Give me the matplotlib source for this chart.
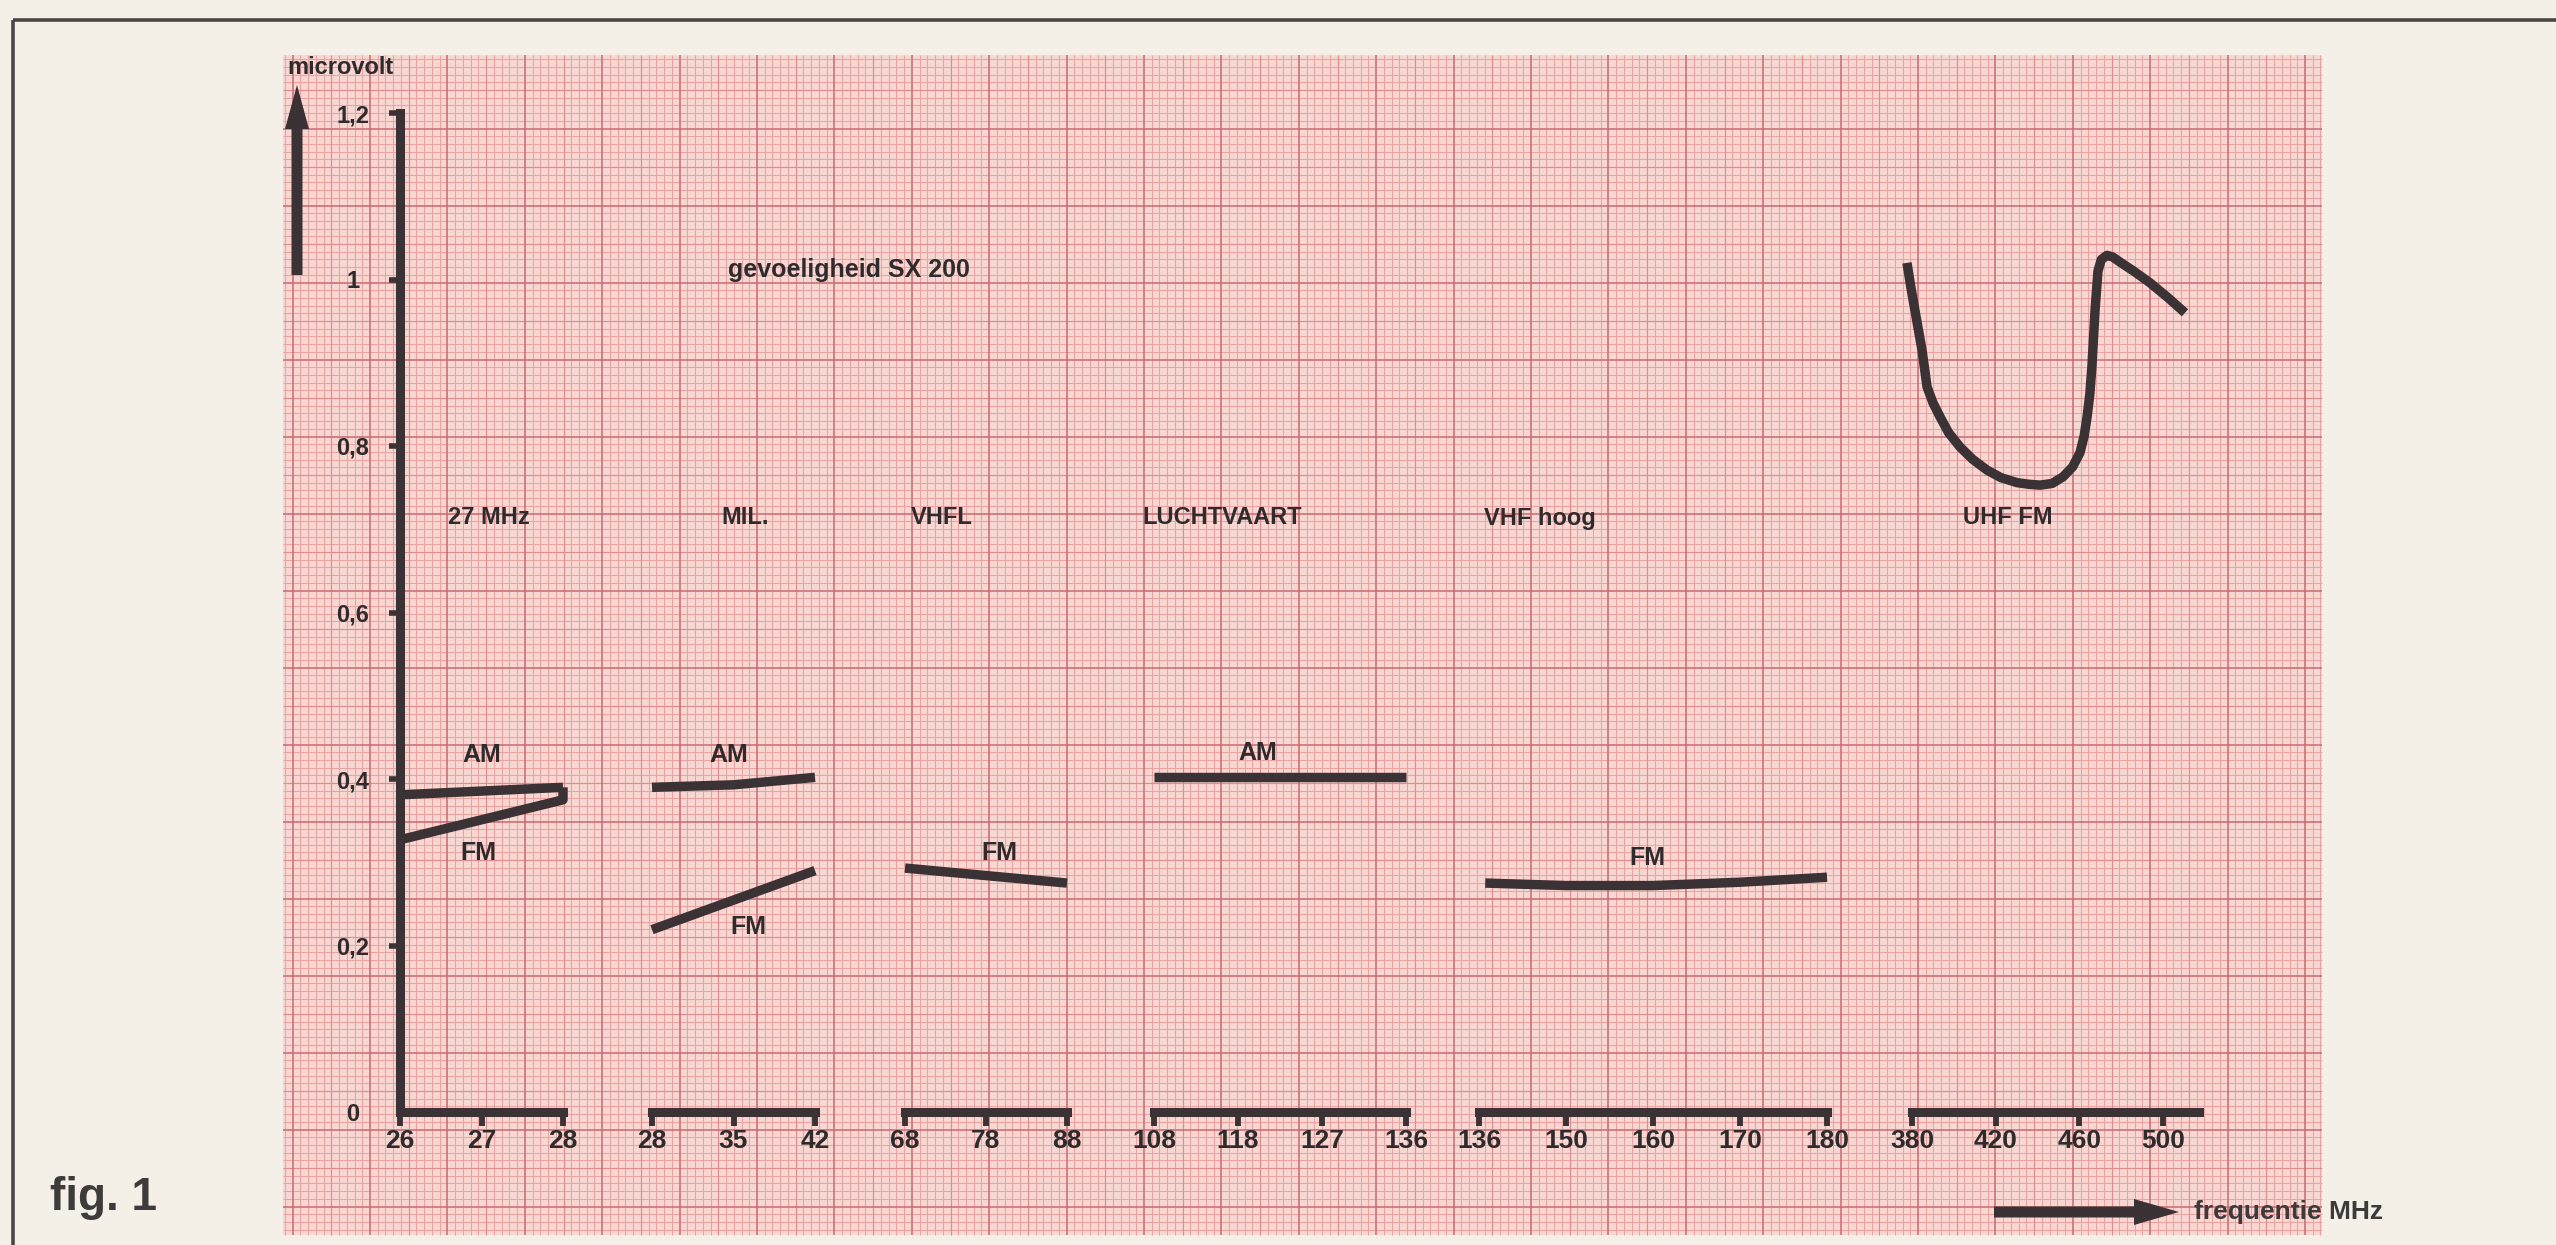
import numpy as np
import matplotlib
matplotlib.use('Agg')
import matplotlib.pyplot as plt
from matplotlib import font_manager
from matplotlib.patches import Rectangle, FancyArrow

W, H = 2556, 1245

# y axis (microvolt)
y_ticks = [0, 0.2, 0.4, 0.6, 0.8, 1.0, 1.2]
y_labels = ['0', '0,2', '0,4', '0,6', '0,8', '1', '1,2']

# frequency ticks of the six bands (MHz)
ticks_27 = [26, 27, 28]
ticks_mil = [28, 35, 42]
ticks_vhfl = [68, 78, 88]
ticks_lucht = [108, 118, 127, 136]
ticks_vhfh = [136, 150, 160, 170, 180]
ticks_uhf = [380, 420, 460, 500]

# sensitivity curves (MHz, microvolt)
am_27_f = [26, 28]
am_27_v = [0.381, 0.39]
fm_27_f = [26, 28, 28]
fm_27_v = [0.327, 0.375, 0.39]

am_mil_f = [28, 35, 42]
am_mil_v = [0.39, 0.393, 0.402]
fm_mil_f = [28, 42]
fm_mil_v = [0.219, 0.29]

fm_vhfl_f = [68, 88]
fm_vhfl_v = [0.293, 0.275]

am_lucht_f = [108, 136]
am_lucht_v = [0.403, 0.403]

fm_vhfh_f = [137, 150, 160, 170, 180]
fm_vhfh_v = [0.275, 0.272, 0.272, 0.276, 0.282]

fm_uhf_f = [377.6, 379.5, 381.4, 384.8, 387.2, 390.0, 393.4, 397.5, 402.9, 409.0, 415.9,
            422.5, 430.2, 436.0, 441.2, 447.0, 452.2, 456.8, 460.3, 462.3, 463.7, 465.0,
            466.0, 467.5, 468.9, 470.5, 473.2, 476.0, 479.4, 486.0, 493.8, 502.0, 510.5]
fm_uhf_v = [1.020, 0.99, 0.963, 0.915, 0.871, 0.852, 0.835, 0.816, 0.799, 0.784, 0.771,
            0.762, 0.756, 0.754, 0.753, 0.755, 0.763, 0.775, 0.792, 0.812, 0.835, 0.862,
            0.895, 0.963, 1.010, 1.024, 1.029, 1.027, 1.021, 1.010, 0.996, 0.979, 0.960]

names = {f.name for f in font_manager.fontManager.ttflist}
narrow = 'Liberation Sans Narrow' if 'Liberation Sans Narrow' in names else 'Liberation Sans'
plt.rcParams['font.family'] = [narrow, 'DejaVu Sans']
plt.rcParams['font.weight'] = 'bold'
SANS = ['Liberation Sans', 'DejaVu Sans']

INK = '#3a3234'
TXT = '#2f2b2c'

fig = plt.figure(figsize=(W / 100, H / 100), dpi=100)
fig.patch.set_facecolor('#f4f0e7')

# background: page frame and graph paper (pixel coordinates)
bg = fig.add_axes([0, 0, 1, 1], zorder=0)
bg.set_xlim(0, W)
bg.set_ylim(H, 0)
bg.axis('off')

px0, px1, py0, py1 = 283, 2322, 55, 1235
bg.add_patch(Rectangle((px0, py0), px1 - px0, py1 - py0, facecolor='#f8d6d2',
                       edgecolor='none', zorder=0))
sx, sy = 7.74, 7.7
kx = np.arange(-2, 300)
xs = 292.6 + sx * kx
ok = (xs >= px0) & (xs <= px1)
xs, kx = xs[ok], kx[ok]
ky = np.arange(-12, 200)
ys = 128.5 + sy * ky
ok = (ys >= py0) & (ys <= py1)
ys, ky = ys[ok], ky[ok]
minor = '#eba3a1'
mid = '#df8c8e'
major = '#c86a72'
bg.vlines(xs[kx % 5 != 0], py0, py1, colors=minor, lw=0.75, zorder=1)
bg.hlines(ys[ky % 5 != 0], px0, px1, colors=minor, lw=0.75, zorder=1)
bg.vlines(xs[(kx % 5 == 0) & (kx % 10 != 0)], py0, py1, colors=mid, lw=0.85, zorder=1)
bg.hlines(ys[(ky % 5 == 0) & (ky % 10 != 0)], px0, px1, colors=mid, lw=0.85, zorder=1)
bg.vlines(xs[kx % 10 == 0], py0, py1, colors=major, lw=1.1, zorder=1)
bg.hlines(ys[ky % 10 == 0], px0, px1, colors=major, lw=1.1, zorder=1)

bg.plot([13, W], [20, 20], color='#4a4646', lw=2.6, solid_capstyle='butt', zorder=3)
bg.plot([13, 13], [20, H], color='#4a4646', lw=2.6, solid_capstyle='butt', zorder=3)

# axis arrows
bg.add_patch(FancyArrow(297, 275, 0, -190, width=11, head_width=24, head_length=44,
                        length_includes_head=True, color=INK, lw=0, zorder=4))
bg.add_patch(FancyArrow(1994, 1212, 185, 0, width=11, head_width=26, head_length=45,
                        length_includes_head=True, color=INK, lw=0, zorder=4))
bg.text(287, 67, 'microvolt', fontsize=17, ha='left', va='center', color=TXT, zorder=4)
bg.text(2194, 1212, 'frequentie MHz', fontsize=19, ha='left', va='center',
        color='#3c3a3a', zorder=4)
bg.text(50, 1198, 'fig. 1', fontsize=33, ha='left', va='center', color='#3d3b3b',
        family=SANS, zorder=4)
bg.text(728, 270, 'gevoeligheid SX 200', fontsize=18, ha='left', va='center', color=TXT,
        family=SANS, zorder=4)

# band titles and AM/FM labels
band_titles = ['27 MHz', 'MIL.', 'VHFL', 'LUCHTVAART', 'VHF hoog', 'UHF FM']
title_x = [489, 745, 942, 1222, 1540, 2008]
for s, x in zip(band_titles, title_x):
    bg.text(x, 518, s, fontsize=17, ha='center', va='center', color=TXT,
            family=SANS, zorder=4)
mode_labels = [('AM', 482, 755), ('FM', 478, 853), ('AM', 729, 755), ('FM', 748, 927),
               ('FM', 999, 853), ('AM', 1258, 753), ('FM', 1647, 858)]
for s, x, y in mode_labels:
    bg.text(x, y, s, fontsize=18, ha='center', va='center', color=TXT,
            family=SANS, zorder=4)


def index_scale(ticks):
    t = np.asarray(ticks, dtype=float)
    idx = np.arange(len(t), dtype=float)
    return (lambda x: np.interp(x, t, idx), lambda i: np.interp(i, idx, t))


# one small axes per band, all sharing the microvolt scale
y_top, y_zero = 113, 1112
bands = [
    (ticks_27, 400, 563, 28, False, [(am_27_f, am_27_v), (fm_27_f, fm_27_v)]),
    (ticks_mil, 652, 815, 42, False, [(am_mil_f, am_mil_v), (fm_mil_f, fm_mil_v)]),
    (ticks_vhfl, 905, 1067, 88, False, [(fm_vhfl_f, fm_vhfl_v)]),
    (ticks_lucht, 1154, 1406, 136, True, [(am_lucht_f, am_lucht_v)]),
    (ticks_vhfh, 1479, 1827, 180, True, [(fm_vhfh_f, fm_vhfh_v)]),
    (ticks_uhf, 1912, 2199, 517.2, False, [(fm_uhf_f, fm_uhf_v)]),
]

for i, (ticks, a, b, xmax, piecewise, series) in enumerate(bands):
    ax = fig.add_axes([a / W, (H - y_zero) / H, (b - a) / W, (y_zero - y_top) / H], zorder=2)
    ax.set_facecolor('none')
    if piecewise:
        ax.set_xscale('function', functions=index_scale(ticks))
    ax.set_xlim(ticks[0], xmax)
    ax.set_ylim(0, 1.2)
    for side in ['top', 'right']:
        ax.spines[side].set_visible(False)
    ax.spines['bottom'].set_linewidth(6.5)
    ax.spines['bottom'].set_color(INK)
    ax.set_xticks(ticks, labels=[str(t) for t in ticks])
    ax.tick_params(axis='x', direction='out', length=10, width=4.2, color=INK,
                   labelsize=19, labelcolor=TXT, pad=2)
    if i == 0:
        ax.spines['left'].set_linewidth(6.5)
        ax.spines['left'].set_color(INK)
        ax.set_yticks(y_ticks, labels=y_labels)
        ax.tick_params(axis='y', direction='out', length=8, width=4, color=INK,
                       labelsize=17, labelcolor=TXT, pad=26)
        for lab in ax.get_yticklabels():
            lab.set_ha('center')
        ax.yaxis.get_major_ticks()[0].tick1line.set_visible(False)
    else:
        ax.spines['left'].set_visible(False)
        ax.set_yticks([])
    for f, v in series:
        ax.plot(f, v, color=INK, lw=6.8, solid_capstyle='butt', solid_joinstyle='round',
                clip_on=False)

fig.savefig('out.png', dpi=100, facecolor=fig.get_facecolor())
